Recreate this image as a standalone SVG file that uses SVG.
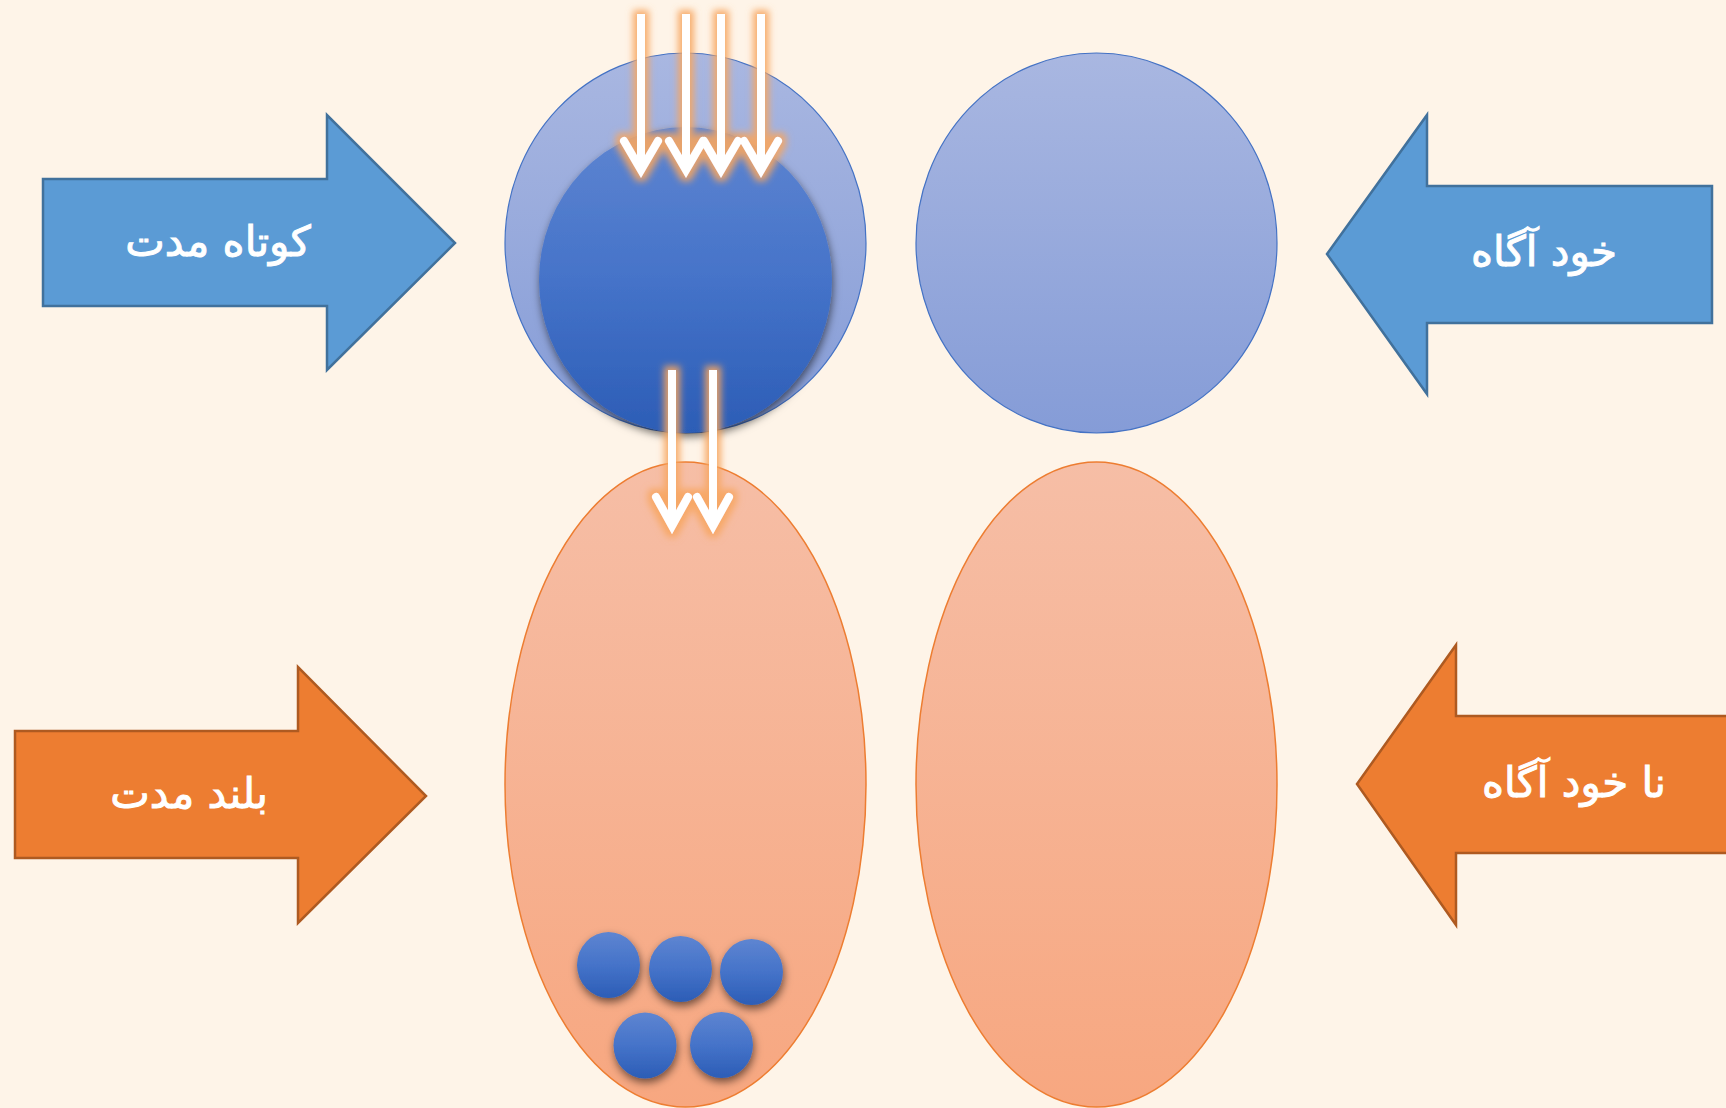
<svg xmlns="http://www.w3.org/2000/svg" width="1726" height="1108" viewBox="0 0 1726 1108">
  <style>
    .lbl { font-family: "DejaVu Sans", "Noto Sans", sans-serif; font-size: 42px; fill: #FFFFFF; stroke: #FFFFFF; stroke-width: 1; text-anchor: middle; }
    .barB { fill: #5B9BD5; stroke: #41719C; stroke-width: 2.5; }
    .barO { fill: #ED7D31; stroke: #AE5A21; stroke-width: 2.5; }
    .outer { fill: url(#gOuter); stroke: #4472C4; stroke-width: 1.2; }
    .ell { fill: url(#gEll); stroke: #ED7D31; stroke-width: 1.5; }
    .dot { fill: url(#gInner); filter: url(#shadow); }
    .shaft { stroke: #FFFFFF; stroke-width: 8; fill: none; stroke-linecap: butt; }
    .chev { stroke: #FFFFFF; stroke-width: 8; fill: none; stroke-linecap: round; stroke-linejoin: miter; }
  </style>
  <defs>
    <linearGradient id="gOuter" x1="0" y1="0" x2="0" y2="1">
      <stop offset="0" stop-color="#A9B7E1"/>
      <stop offset="1" stop-color="#859CD7"/>
    </linearGradient>
    <linearGradient id="gInner" x1="0" y1="0" x2="0" y2="1">
      <stop offset="0" stop-color="#5E85D1"/>
      <stop offset="0.5" stop-color="#4573C9"/>
      <stop offset="1" stop-color="#2C5DB6"/>
    </linearGradient>
    <linearGradient id="gEll" x1="0" y1="0" x2="0" y2="1">
      <stop offset="0" stop-color="#F6BEA6"/>
      <stop offset="1" stop-color="#F7A780"/>
    </linearGradient>
    <filter id="shadow" x="-20%" y="-20%" width="140%" height="150%">
      <feGaussianBlur in="SourceAlpha" stdDeviation="4"/>
      <feOffset dx="1" dy="4" result="b"/>
      <feFlood flood-color="#000000" flood-opacity="0.55"/>
      <feComposite in2="b" operator="in" result="s"/>
      <feMerge><feMergeNode in="s"/><feMergeNode in="SourceGraphic"/></feMerge>
    </filter>
    <filter id="glow" x="-50%" y="-10%" width="200%" height="120%">
      <feMorphology in="SourceAlpha" operator="dilate" radius="4" result="d"/>
      <feGaussianBlur in="d" stdDeviation="3.5" result="b"/>
      <feFlood flood-color="#F7A660" flood-opacity="0.9"/>
      <feComposite in2="b" operator="in" result="g"/>
      <feMerge><feMergeNode in="g"/><feMergeNode in="SourceGraphic"/></feMerge>
    </filter>
  </defs>

  <rect x="0" y="0" width="1726" height="1108" fill="#FEF4E8"/>

  <g id="arrow-short-term">
    <polygon class="barB" points="43,179 327,179 327,115 455,243 327,370 327,306 43,306"/>
    <text class="lbl" x="218" y="256" direction="rtl">کوتاه مدت</text>
  </g>
  <g id="arrow-conscious">
    <polygon class="barB" points="1712,186 1427,186 1427,115 1327,254 1427,394 1427,323 1712,323"/>
    <text class="lbl" x="1544" y="266" direction="rtl">خود آگاه</text>
  </g>
  <g id="arrow-long-term">
    <polygon class="barO" points="15,731 298,731 298,667 426,796 298,923 298,858 15,858"/>
    <text class="lbl" x="189" y="808" direction="rtl">بلند مدت</text>
  </g>
  <g id="arrow-unconscious">
    <polygon class="barO" points="1740,716 1456,716 1456,645 1357,784 1456,925 1456,853 1740,853"/>
    <text class="lbl" x="1574" y="797" direction="rtl">نا خود آگاه</text>
  </g>

  <g id="short-term-memory">
    <ellipse class="outer" cx="685.5" cy="243" rx="180.5" ry="190"/>
    <ellipse cx="685.5" cy="280" rx="146.5" ry="153" fill="url(#gInner)" filter="url(#shadow)"/>
  </g>
  <g id="conscious-circle">
    <ellipse class="outer" cx="1096.5" cy="243" rx="180.5" ry="190"/>
  </g>
  <g id="long-term-memory">
    <ellipse class="ell" cx="685.5" cy="784.5" rx="180.5" ry="322.5"/>
  </g>
  <g id="unconscious-ellipse">
    <ellipse class="ell" cx="1096.5" cy="784.5" rx="180.5" ry="322.5"/>
  </g>

  <g id="stored-items">
    <ellipse class="dot" cx="608.5" cy="965" rx="31.5" ry="33"/>
    <ellipse class="dot" cx="680.5" cy="969" rx="31.5" ry="33"/>
    <ellipse class="dot" cx="751.5" cy="972" rx="31.5" ry="33"/>
    <ellipse class="dot" cx="645" cy="1045.5" rx="31.5" ry="33"/>
    <ellipse class="dot" cx="721.5" cy="1045" rx="31.5" ry="33"/>
  </g>

  <g id="connectors" filter="url(#glow)">
    <path class="shaft" d="M641 14 V168 M686 14 V168 M721 14 V168 M761 14 V168"/>
    <path class="chev" d="M624 141 L641 170 L658 141 M669 141 L686 170 L703 141 M704 141 L721 170 L738 141 M744 141 L761 170 L778 141"/>
    <path class="shaft" d="M672 370 V524 M713 370 V524"/>
    <path class="chev" d="M656 497 L672 526 L688 497 M697 497 L713 526 L729 497"/>
  </g>
</svg>
